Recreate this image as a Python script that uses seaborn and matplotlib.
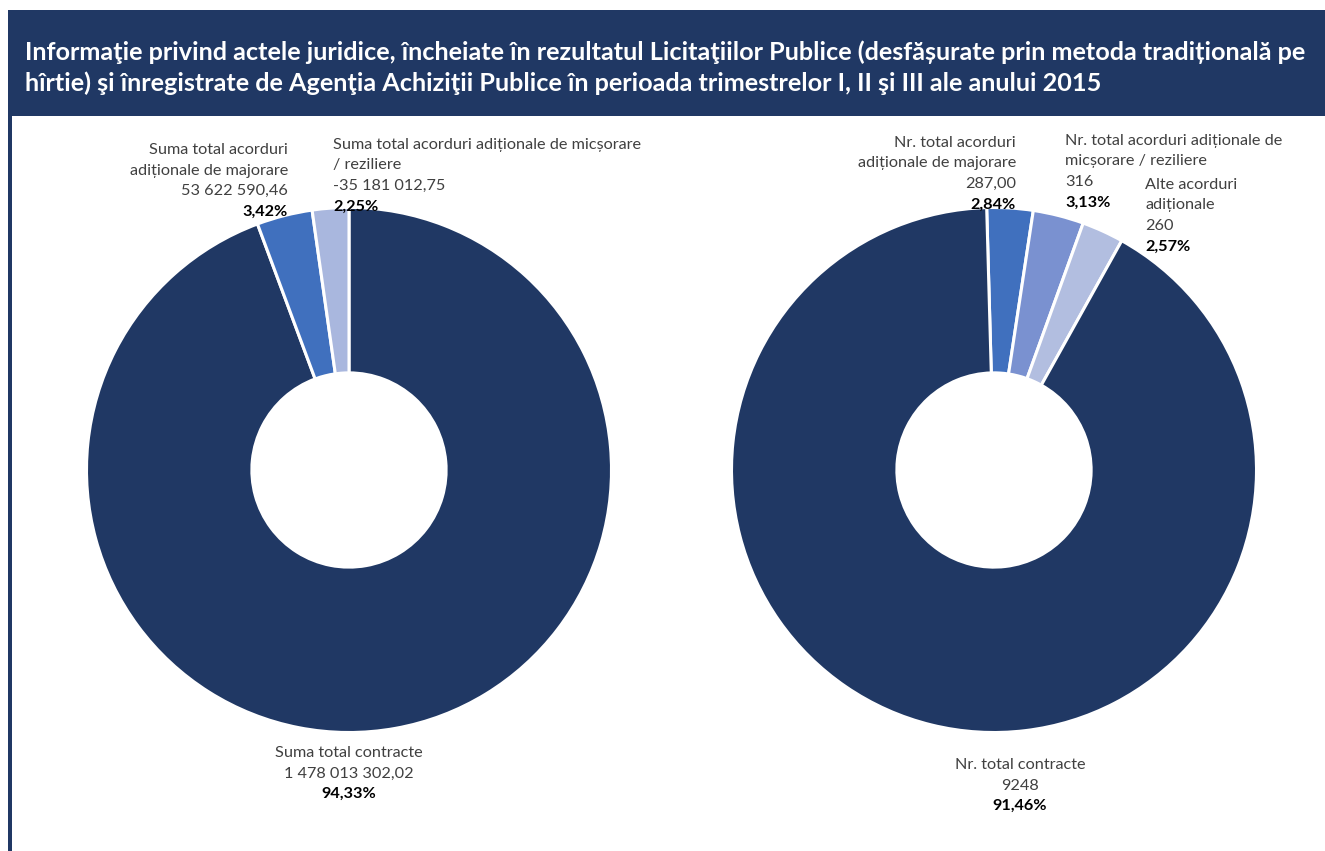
import matplotlib
matplotlib.use("Agg")
import matplotlib.pyplot as plt
import seaborn as sns
from matplotlib.patches import Rectangle

sns.set_theme(style="white")
plt.rcParams['font.family'] = ['Lato', 'DejaVu Sans']

# ---- data ----
title = ("Informaţie privind actele juridice, încheiate în rezultatul Licitaţiilor Publice (desfășurate prin metoda tradițională pe\n"
         "hîrtie) şi înregistrate de Agenţia Achiziţii Publice în perioada trimestrelor I, II şi III ale anului 2015")

left_labels = ["Suma total contracte",
               "Suma total acorduri\nadiționale de majorare",
               "Suma total acorduri adiționale de micșorare\n/ reziliere"]
left_values = [1478013302.02, 53622590.46, 35181012.75]
left_value_text = ["1 478 013 302,02", "53 622 590,46", "-35 181 012,75"]
left_pct_text = ["94,33%", "3,42%", "2,25%"]

right_labels = ["Nr. total acorduri\nadiționale de majorare",
                "Nr. total acorduri adiționale de\nmicșorare / reziliere",
                "Alte acorduri\nadiționale",
                "Nr. total contracte"]
right_values = [287, 316, 260, 9248]
right_value_text = ["287,00", "316", "260", "9248"]
right_pct_text = ["2,84%", "3,13%", "2,57%", "91,46%"]

# ---- styling ----
NAVY = "#203864"
left_colors = [NAVY, "#4070BE", "#A9B7DE"]
right_colors = ["#4070BE", "#7A91D0", "#B2BEE0", NAVY]

W, H = 1325, 851
fig = plt.figure(figsize=(W / 100, H / 100), dpi=100)
fig.patch.set_facecolor("white")

def fx(x):
    return x / W

def fy(y):
    return 1 - y / H

# title banner
fig.patches.append(Rectangle((fx(8), fy(116)), fx(W - 8), (116 - 10) / H,
                             transform=fig.transFigure, facecolor=NAVY,
                             edgecolor="none", zorder=0))
# left border line
fig.patches.append(Rectangle((fx(8), 0), 4 / W, fy(116),
                             transform=fig.transFigure, facecolor=NAVY,
                             edgecolor="none", zorder=0))
fig.text(fx(25), fy(68), title, color="white", fontsize=18.2, fontweight="bold",
         ha="left", va="center", linespacing=1.4)

R = 262.5
def make_ax(cx, cy):
    ax = fig.add_axes([fx(cx - R), fy(cy + R), 2 * R / W, 2 * R / H])
    ax.set_xlim(-1, 1)
    ax.set_ylim(-1, 1)
    ax.axis("off")
    return ax

ring = dict(width=0.63, edgecolor="white", linewidth=2.2)

axL = make_ax(349, 470)
axL.pie(left_values, colors=left_colors, startangle=90, counterclock=False,
        radius=1, wedgeprops=ring)
axL.set_xlim(-1, 1); axL.set_ylim(-1, 1)

axR = make_ax(994, 470)
axR.pie(right_values, colors=right_colors, startangle=91.6, counterclock=False,
        radius=1, wedgeprops=ring)
axR.set_xlim(-1, 1); axR.set_ylim(-1, 1)

FS = 11.7
LH = 20.5  # line height in px

def label(x, y_top, name, value, pct, ha):
    lines = name.split("\n") + [value]
    for i, ln in enumerate(lines):
        fig.text(fx(x), fy(y_top + i * LH), ln, fontsize=FS, color="#404040",
                 ha=ha, va="center")
    fig.text(fx(x), fy(y_top + len(lines) * LH), pct, fontsize=FS,
             color="#000000", fontweight="bold", ha=ha, va="center")

# left chart labels
label(288, 150, left_labels[1], left_value_text[1], left_pct_text[1], "right")
label(333, 145, left_labels[2], left_value_text[2], left_pct_text[2], "left")
label(349, 753, left_labels[0], left_value_text[0], left_pct_text[0], "center")

# right chart labels
label(1016, 143, right_labels[0], right_value_text[0], right_pct_text[0], "right")
label(1065, 141, right_labels[1], right_value_text[1], right_pct_text[1], "left")
label(1145, 185, right_labels[2], right_value_text[2], right_pct_text[2], "left")
label(1020, 765, right_labels[3], right_value_text[3], right_pct_text[3], "center")

fig.savefig("out.png", dpi=100, facecolor="white")
